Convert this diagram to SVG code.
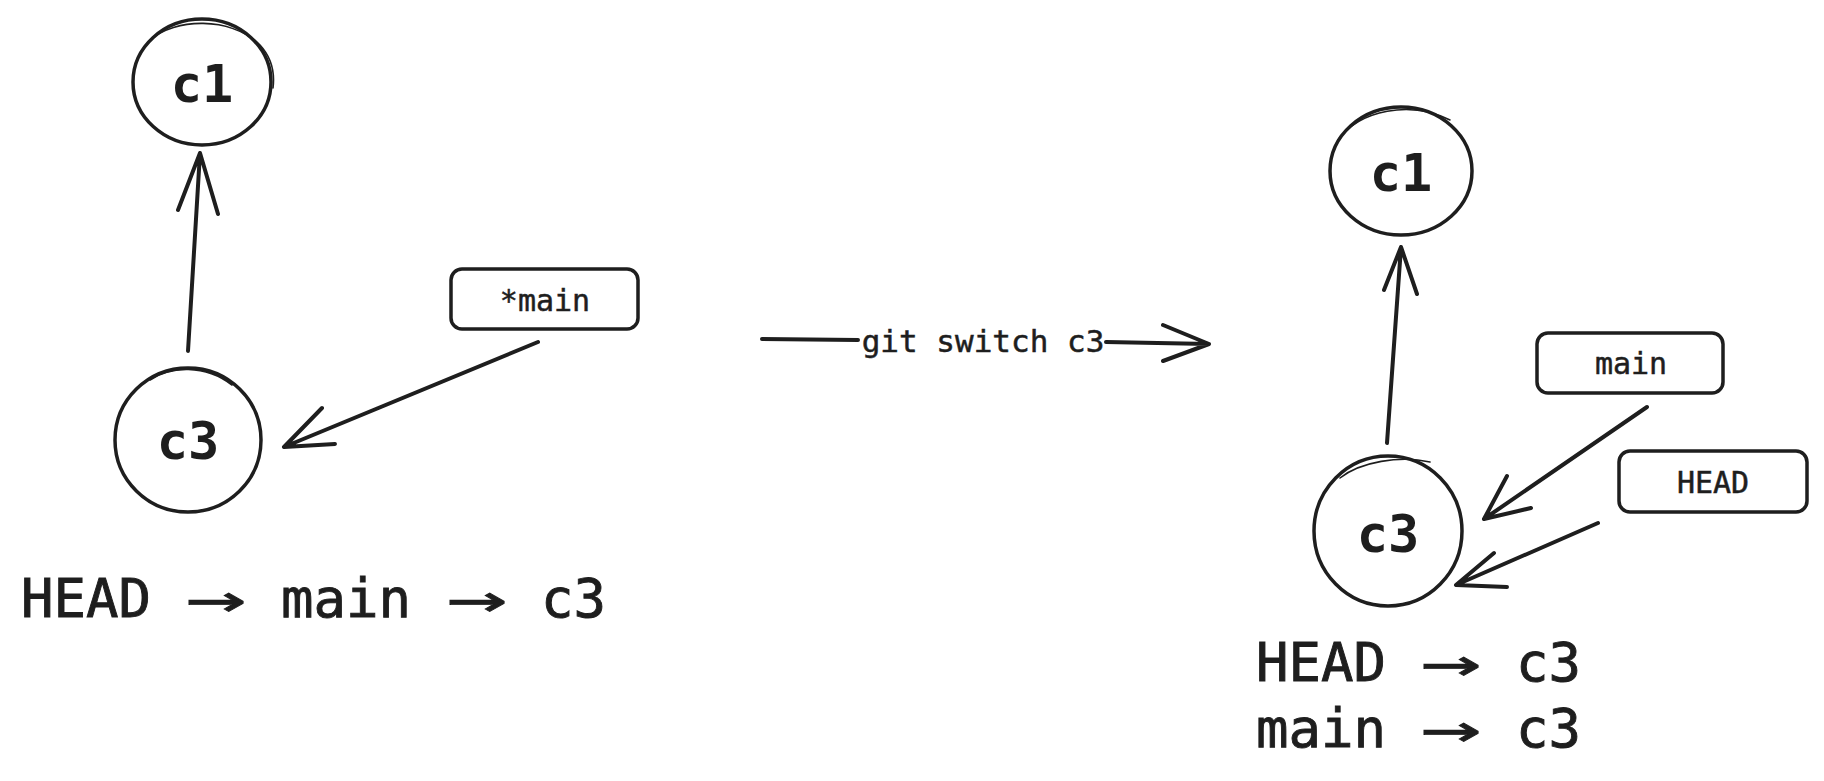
<svg xmlns="http://www.w3.org/2000/svg" width="1824" height="781" viewBox="0 0 1824 781">
<defs>
<style>
.bg{fill:#ffffff}
.shape{fill:none;stroke:#1e1e1e;stroke-width:3.5;stroke-linecap:round;stroke-linejoin:round}
.sk{fill:none;stroke:#1e1e1e;stroke-width:1.6;stroke-linecap:round}
.line{fill:none;stroke:#1e1e1e;stroke-width:4;stroke-linecap:round;stroke-linejoin:round}
.node{font-family:"DejaVu Sans Mono","Liberation Mono",monospace;font-weight:bold;font-size:52px;fill:#1e1e1e;text-anchor:middle}
.tag{font-family:"DejaVu Sans Mono","Liberation Mono",monospace;font-size:30px;fill:#1e1e1e;stroke:#1e1e1e;stroke-width:0.5;text-anchor:middle}
.big{font-family:"DejaVu Sans Mono","Liberation Mono",monospace;font-size:54px;fill:#1e1e1e;stroke:#1e1e1e;stroke-width:0.9}
.arr{font-family:"DejaVu Sans Mono","Liberation Mono",monospace;font-size:54px;fill:#1e1e1e;stroke:#1e1e1e;stroke-width:0.8;text-anchor:middle}
</style>
</defs>
<rect class="bg" x="0" y="0" width="1824" height="781"/>

<g id="left-c1">
<ellipse class="shape" cx="202" cy="82" rx="69" ry="63"/>
<path class="sk" d="M150 40 C175 18 230 16 260 45 C272 58 275 72 273 88"/>
<text class="node" x="202" y="102">c1</text>
</g>
<g id="left-c3">
<ellipse class="shape" cx="188" cy="440" rx="73" ry="72"/>
<path class="sk" d="M150 380 C170 366 205 364 232 385"/>
<text class="node" x="188" y="459">c3</text>
</g>
<g id="left-main">
<rect class="shape" x="451" y="269" width="187" height="60" rx="11"/>
<text class="tag" x="545" y="311">*main</text>
</g>
<g id="left-text">
<text class="big" x="21" y="617">HEAD</text>
<text class="arr" transform="translate(216,618) scale(1.85,1.05)">→</text>
<text class="big" x="281" y="617">main</text>
<text class="arr" transform="translate(477,618) scale(1.85,1.05)">→</text>
<text class="big" x="541" y="617">c3</text>
</g>

<g id="right-c1">
<ellipse class="shape" cx="1401" cy="171" rx="71" ry="64"/>
<path class="sk" d="M1338 140 C1360 110 1410 100 1450 120"/>
<text class="node" x="1401" y="191">c1</text>
</g>
<g id="right-c3">
<ellipse class="shape" cx="1388" cy="531" rx="74" ry="75"/>
<path class="sk" d="M1340 478 C1360 462 1400 455 1430 462"/>
<text class="node" x="1388" y="552">c3</text>
</g>
<g id="right-main">
<rect class="shape" x="1537" y="333" width="186" height="60" rx="11"/>
<text class="tag" x="1631" y="374">main</text>
</g>
<g id="right-head">
<rect class="shape" x="1619" y="451" width="188" height="61" rx="11"/>
<text class="tag" x="1713" y="493">HEAD</text>
</g>
<g id="right-text">
<text class="big" x="1256" y="681">HEAD</text>
<text class="arr" transform="translate(1451,682) scale(1.85,1.05)">→</text>
<text class="big" x="1516" y="681">c3</text>
<text class="big" x="1256" y="747">main</text>
<text class="arr" transform="translate(1451,748) scale(1.85,1.05)">→</text>
<text class="big" x="1516" y="747">c3</text>
</g>

<g id="switch-label">
<text class="tag" x="983" y="352" style="font-size:31px">git switch c3</text>
</g>

<g id="connectors">
<path class="line" d="M188 351 L200 153 M178 210 L200 153 L218 214"/>
<path class="line" d="M538 342 L284 447 M322 408 L284 447 L335 444"/>
<path class="line" d="M762 339 L858 340 M1106 342 L1209 344 M1163 325 L1209 344 L1163 361"/>
<path class="line" d="M1387 443 L1401 247 M1384 290 L1401 247 L1417 294"/>
<path class="line" d="M1647 407 L1484 519 M1507 476 L1484 519 L1531 508"/>
<path class="line" d="M1598 523 L1456 585 M1494 553 L1456 585 L1507 587"/>
</g>
</svg>
